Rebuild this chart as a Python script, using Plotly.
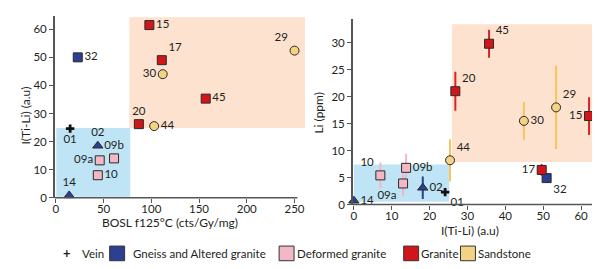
import plotly.graph_objects as go

# ---------------- data ----------------
group_names = ["Vein", "Gneiss and Altered granite", "Deformed granite", "Granite", "Sandstone"]

# Left panel: BOSL f125°C (x) vs I(Ti-Li) (y)
vein_ids = ["01"]
vein_bosl = [15]
vein_iL = [24.6]

gneiss_ids = ["32", "02", "14"]
gneiss_bosl = [23, 44, 14]
gneiss_iL = [50, 18.5, 0.8]

deformed_ids = ["09a", "09b", "10"]
deformed_bosl = [46, 61, 44]
deformed_iL = [13.3, 14.0, 8.0]

granite_ids = ["15", "17", "45", "20"]
granite_bosl = [98, 111, 157, 87]
granite_iL = [61.5, 49, 35.3, 26.2]

sand_ids = ["30", "29", "44"]
sand_bosl = [112, 250, 103]
sand_iL = [44, 52.4, 25.5]

# Right panel: I(Ti-Li) (x) vs Li ppm (y) with error
vein_iR = [24.1]
vein_li = [2.3]
vein_err = [0]

gneiss_iR = [50.9, 18.2, 0.0]
gneiss_li = [4.9, 3.1, 0.7]
gneiss_err = [0.8, 2.1, 0]

deformed_iR = [13.0, 13.8, 7.0]
deformed_li = [3.9, 6.8, 5.4]
deformed_err = [2.4, 2.6, 2.4]

granite_iR = [62.1, 49.6, 35.7, 26.8]
granite_li = [16.4, 6.4, 29.8, 21.0]
granite_err = [3.5, 1.1, 2.6, 3.6]

sand_iR = [44.9, 53.4, 25.4]
sand_li = [15.5, 18.0, 8.2]
sand_err = [3.5, 7.7, 3.9]

# Shaded fields (data coordinates): [x0, x1, y0, y1]
left_blue_field = [0.5, 78, 0.3, 24.8]
left_orange_field = [77, 261, 24.8, 64.3]
right_blue_field = [0, 25.2, 0.5, 7.4]
right_orange_field = [25.9, 65, 7.9, 33.4]

left_x_ticks = [0, 50, 100, 150, 200, 250]
left_y_ticks = [0, 10, 20, 30, 40, 50, 60]
right_x_ticks = [0, 10, 20, 30, 40, 50, 60]
right_y_ticks = [0, 5, 10, 15, 20, 25, 30]

# ---------------- styles ----------------
FONT = "Lato"
TXT = "#231f20"
AX = "#555555"
col = {
    "Vein": "#111111",
    "Gneiss and Altered granite": "#2d3f91",
    "Deformed granite": "#f2b8c6",
    "Granite": "#d0161b",
    "Sandstone": "#f3d383",
}
err_col = {
    "Gneiss and Altered granite": "#2d3f91",
    "Deformed granite": "#f4b6c6",
    "Granite": "#d8232a",
    "Sandstone": "#f7c35a",
}
blue_fill = "#bfe4f6"
orange_fill = "#fde2cf"

W, H = 600, 269
def px(x):
    return x / W
def py(y):
    return 1 - y / H

L_xdom = [px(45), px(296)]
L_ydom = [py(194), py(8)]
R_xdom = [px(344), px(592)]
R_ydom = [py(201), py(11.7)]
L_xrange = [-1, 261]
L_yrange = [0, 64.8]
R_xrange = [-0.26, 65]
R_yrange = [0, 34.3]
L_xline_end = 253
R_xline_end = 63.7

gneiss_sym = ["square", "triangle-up", "triangle-up"]

pos_L = {
    "Vein": ["bottom center"],
    "Gneiss and Altered granite": ["middle right", "top center", "top center"],
    "Deformed granite": ["middle left", "top center", "middle right"],
    "Granite": ["middle right", "top right", "middle right", "top center"],
    "Sandstone": ["middle left", "top left", "middle right"],
}
pos_R = {
    "Vein": ["bottom right"],
    "Gneiss and Altered granite": ["bottom right", "middle right", "middle right"],
    "Deformed granite": ["bottom left", "middle right", "top left"],
    "Granite": ["middle left", "middle left", "top right", "top right"],
    "Sandstone": ["middle right", "top right", "top right"],
}

fig = go.Figure()

def add(name, ids, x, y, sym, xa, ya, pos, err=None):
    is_vein = name == "Vein"
    marker = dict(
        color=col[name],
        symbol=sym,
        size=7 if is_vein else 9,
        line=dict(width=0 if is_vein else 1, color="#2a2a2a"),
    )
    kw = {}
    if err is not None and not is_vein:
        kw["error_y"] = dict(type="data", array=err, visible=True, color=err_col[name],
                             thickness=2, width=0)
    fig.add_trace(go.Scatter(
        x=x, y=y, mode="markers+text", text=ids, textposition=pos,
        textfont=dict(family=FONT, size=11.5, color=TXT),
        marker=marker, xaxis=xa, yaxis=ya, cliponaxis=False,
        showlegend=False, name=name, **kw))

# left panel
add("Vein", vein_ids, vein_bosl, vein_iL, "cross", "x", "y", pos_L["Vein"])
add("Gneiss and Altered granite", gneiss_ids, gneiss_bosl, gneiss_iL, gneiss_sym, "x", "y", pos_L["Gneiss and Altered granite"])
add("Deformed granite", deformed_ids, deformed_bosl, deformed_iL, "square", "x", "y", pos_L["Deformed granite"])
add("Granite", granite_ids, granite_bosl, granite_iL, "square", "x", "y", pos_L["Granite"])
add("Sandstone", sand_ids, sand_bosl, sand_iL, "circle", "x", "y", pos_L["Sandstone"])

# right panel
add("Vein", vein_ids, vein_iR, vein_li, "cross", "x2", "y2", pos_R["Vein"], vein_err)
add("Gneiss and Altered granite", gneiss_ids, gneiss_iR, gneiss_li, gneiss_sym, "x2", "y2", pos_R["Gneiss and Altered granite"], gneiss_err)
add("Deformed granite", deformed_ids, deformed_iR, deformed_li, "square", "x2", "y2", pos_R["Deformed granite"], deformed_err)
add("Sandstone", sand_ids, sand_iR, sand_li, "circle", "x2", "y2", pos_R["Sandstone"], sand_err)
add("Granite", granite_ids, granite_iR, granite_li, "square", "x2", "y2", pos_R["Granite"], granite_err)

shapes = []
def field(f, color, xr, yr):
    shapes.append(dict(type="rect", xref=xr, yref=yr, x0=f[0], x1=f[1], y0=f[2], y1=f[3],
                       fillcolor=color, line=dict(width=0), layer="below"))
field(left_blue_field, blue_fill, "x", "y")
field(left_orange_field, orange_fill, "x", "y")
field(right_blue_field, blue_fill, "x2", "y2")
field(right_orange_field, orange_fill, "x2", "y2")

# x-axis lines (shorter than the shaded fields)
def xline(dom, rng, end, ydom):
    frac = (end - rng[0]) / (rng[1] - rng[0])
    shapes.append(dict(type="line", xref="paper", yref="paper",
                       x0=dom[0], x1=dom[0] + frac * (dom[1] - dom[0]),
                       y0=ydom[0], y1=ydom[0], line=dict(color=AX, width=1.5)))
xline(L_xdom, L_xrange, L_xline_end, L_ydom)
xline(R_xdom, R_xrange, R_xline_end, R_ydom)

# legend (manual)
annotations = []
leg_y = py(251)
LEGF = 11.5
annotations.append(dict(x=px(57), y=leg_y, xref="paper", yref="paper", text="<b>+</b>",
                        showarrow=False, xanchor="center", yanchor="middle",
                        font=dict(family=FONT, size=13, color=TXT)))
annotations.append(dict(x=px(70), y=leg_y, xref="paper", yref="paper", text="Vein",
                        showarrow=False, xanchor="left", yanchor="middle",
                        font=dict(family=FONT, size=LEGF, color=TXT)))
leg_sq = [
    ("Gneiss and Altered granite", 100, 121),
    ("Deformed granite", 270, 286),
    ("Granite", 395, 410),
    ("Sandstone", 452, 468),
]
for name, sx, tx in leg_sq:
    shapes.append(dict(type="rect", xref="paper", yref="paper",
                       x0=px(sx), x1=px(sx + 15), y0=py(258.5), y1=py(243.5),
                       fillcolor=col[name], line=dict(color="#333333", width=1)))
    annotations.append(dict(x=px(tx), y=leg_y, xref="paper", yref="paper", text=name,
                            showarrow=False, xanchor="left", yanchor="middle",
                            font=dict(family=FONT, size=LEGF, color=TXT)))

# axis titles
def title(text, x, y, angle=0):
    annotations.append(dict(x=px(x), y=py(y), xref="paper", yref="paper", text=text,
                            showarrow=False, xanchor="center", yanchor="middle",
                            textangle=angle, font=dict(family=FONT, size=12, color=TXT)))
title("BOSL f125°C (cts/Gy/mg)", 161, 219)
title("I(Ti-Li) (a.u)", 16, 110, -90)
title("I(Ti-Li) (a.u)", 462, 228)
title("Li (ppm)", 310, 107, -90)

axis_common = dict(showgrid=False, zeroline=False, ticks="outside", ticklen=4,
                   tickcolor=AX, tickwidth=1.2,
                   tickfont=dict(family=FONT, size=11.5, color=TXT))

fig.update_layout(
    width=W, height=H, margin=dict(l=0, r=0, t=0, b=0),
    paper_bgcolor="white", plot_bgcolor="rgba(0,0,0,0)",
    showlegend=False,
    xaxis=dict(domain=L_xdom, range=L_xrange, tickvals=left_x_ticks, anchor="y",
               showline=False, ticklabelstandoff=-3, **axis_common),
    yaxis=dict(domain=L_ydom, range=L_yrange, tickvals=left_y_ticks, anchor="x",
               showline=True, linecolor=AX, linewidth=1.5, **axis_common),
    xaxis2=dict(domain=R_xdom, range=R_xrange, tickvals=right_x_ticks, anchor="y2",
                showline=False, ticklabelstandoff=-3, **axis_common),
    yaxis2=dict(domain=R_ydom, range=R_yrange, tickvals=right_y_ticks, anchor="x2",
                showline=True, linecolor=AX, linewidth=1.5, **axis_common),
    shapes=shapes, annotations=annotations,
)

fig.write_html("out.html")
